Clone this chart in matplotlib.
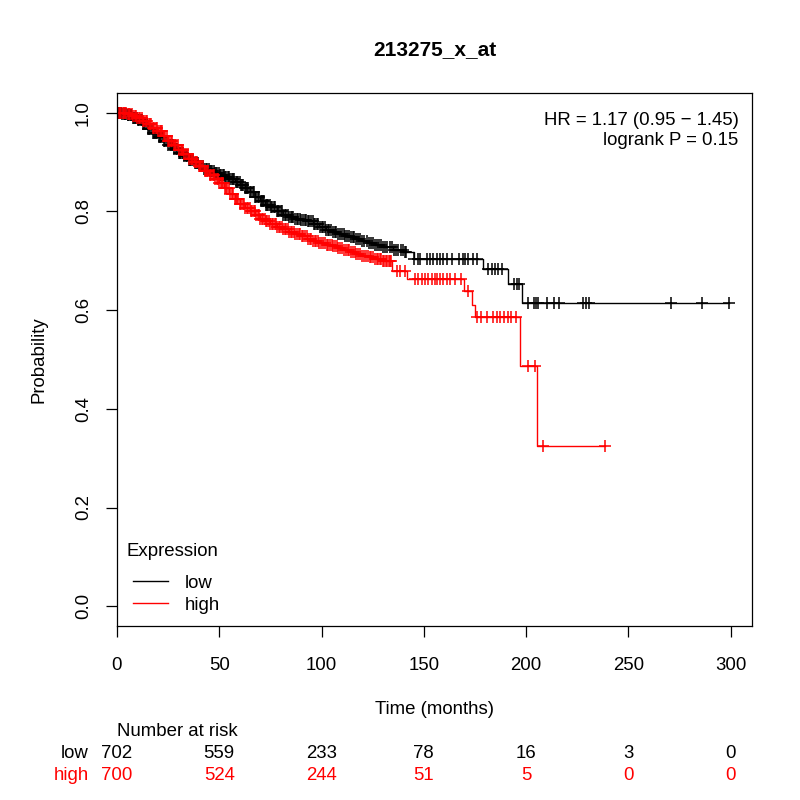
import numpy as np
import matplotlib
matplotlib.use("Agg")
import matplotlib.pyplot as plt
from matplotlib.lines import Line2D
from matplotlib.transforms import blended_transform_factory

plt.rcParams['font.family'] = ['Liberation Sans', 'DejaVu Sans']

title = "213275_x_at"
hr_text = "HR = 1.17 (0.95 \u2212 1.45)"
p_text = "logrank P = 0.15"

# Kaplan-Meier steps (time in months, survival after the step)
low_t = [0, 2.5, 5, 7.5, 10, 12.5, 15, 17.5, 20, 22.5, 25, 27.5, 30, 32.5, 35, 37.5,
         40, 42.5, 45, 47.5, 50, 52.5, 55, 57.5, 60, 62.5, 65, 67.5, 70, 72.5, 75, 78,
         81, 84, 87, 90, 93, 96, 99, 102, 105, 108, 111, 114, 117, 120, 123, 126, 130,
         135, 140, 145, 179, 191, 198]
low_s = [1.0, 0.998, 0.995, 0.99, 0.985, 0.977, 0.968, 0.959, 0.95, 0.942, 0.935,
         0.927, 0.919, 0.912, 0.905, 0.899, 0.893, 0.887, 0.882, 0.878, 0.874, 0.87,
         0.865, 0.86, 0.854, 0.847, 0.839, 0.83, 0.821, 0.814, 0.808, 0.80, 0.792,
         0.788, 0.785, 0.782, 0.78, 0.775, 0.768, 0.762, 0.758, 0.754, 0.751, 0.748,
         0.744, 0.74, 0.736, 0.732, 0.728, 0.722, 0.717, 0.703, 0.683, 0.653, 0.614]

high_t = [0, 2.5, 5, 7.5, 10, 12.5, 15, 17.5, 20, 22.5, 25, 27.5, 30, 32.5, 35, 37.5,
          40, 42.5, 45, 47.5, 50, 52.5, 55, 57.5, 60, 62.5, 65, 67.5, 70, 72.5, 75, 78,
          81, 84, 87, 90, 93, 96, 99, 102, 105, 108, 111, 114, 117, 120, 123, 126, 130,
          134.6, 142, 169.5, 173.5, 175, 197, 205.5]
high_s = [1.0, 0.999, 0.997, 0.994, 0.99, 0.984, 0.977, 0.97, 0.962, 0.952, 0.943,
          0.934, 0.925, 0.916, 0.907, 0.90, 0.892, 0.882, 0.873, 0.865, 0.858, 0.847,
          0.835, 0.825, 0.815, 0.807, 0.80, 0.792, 0.785, 0.78, 0.775, 0.769, 0.764,
          0.759, 0.755, 0.75, 0.745, 0.741, 0.737, 0.733, 0.729, 0.726, 0.722, 0.718,
          0.714, 0.71, 0.707, 0.704, 0.70, 0.679, 0.663, 0.638, 0.61, 0.586, 0.487,
          0.325]

# censoring times, early (dense) and late
low_cens_early = [
    0.5, 1.0, 1.6, 2.1, 2.5, 3.2, 3.7, 4.0, 4.6, 5.2, 5.5, 6.1, 6.7, 7.0, 7.6, 8.3,
    8.7, 9.1, 9.8, 10.4, 11.0, 11.5, 12.4, 12.9, 13.3, 13.8, 14.5, 15.0, 15.7, 16.2,
    16.9, 17.5, 18.1, 18.6, 19.0, 19.7, 20.3, 20.9, 21.7, 22.3, 23.0, 23.6, 24.4,
    25.1, 25.7, 26.2, 26.8, 27.4, 28.0, 28.7, 29.5, 30.1, 30.6, 31.0, 31.7, 32.2,
    32.9, 33.6, 34.3, 35.0, 35.5, 36.4, 37.0, 37.9, 38.4, 39.0, 39.8, 40.5, 41.1,
    42.0, 42.6, 43.3, 44.0, 44.8, 45.4, 46.0, 46.6, 47.2, 47.9, 48.5, 49.1, 49.7,
    50.3, 51.0, 51.6, 52.3, 52.9, 53.5, 54.1, 54.8, 55.4, 56.0, 56.8, 57.4, 58.0,
    58.6, 59.2, 59.9, 60.5, 61.2, 61.8, 62.5, 63.1, 63.7, 64.3, 65.0, 65.7, 66.4,
    67.0, 67.6, 68.2, 68.9, 69.5, 70.2, 70.8, 71.5, 72.1, 72.8, 73.4, 74.0, 74.7,
    75.3, 76.0, 76.7, 77.3, 78.0, 78.8, 79.4, 80.0, 80.6, 81.3, 82.0, 82.8, 83.5,
    84.2, 85.0, 85.6, 86.3, 87.1, 88.0, 88.7, 89.4, 90.2, 91.0, 91.8, 92.5, 93.2,
    94.0, 94.8, 95.6, 96.3, 97.0, 97.8, 98.5, 99.2, 100.0, 100.8, 101.6, 102.3,
    103.0, 103.9, 104.8, 105.6, 106.5, 107.2, 108.0, 109.0, 110.0, 110.8, 111.7,
    112.6, 113.5, 114.4, 115.3, 116.1, 117.0, 118.0, 119.0, 120.0, 121.0, 122.0,
    123.0, 124.1, 125.2, 126.0, 127.0, 128.0, 129.0, 130.0, 131.0, 132.2, 133.4,
    134.4, 135.5, 136.5, 137.6, 138.7, 139.8, 140.6, 141.5]
low_cens_late = [
    145, 147, 148.3, 151.7, 153, 154.7, 156.6, 158, 159.6, 161.5, 164, 167, 169,
    170.3, 171.8, 174, 176, 181.6, 183.5, 185, 186.5, 188.4, 194, 195.8, 196.8, 201,
    203.7, 205, 206, 210.5, 213.5, 216, 228, 229.5, 231, 270.7, 285.9, 299.1]

high_cens_early = [
    0.8, 1.3, 2.0, 2.7, 3.5, 4.1, 4.6, 5.3, 6.0, 6.6, 7.3, 8.0, 8.8, 9.4, 10.0, 10.7,
    11.3, 12.0, 12.7, 13.3, 14.0, 14.8, 15.6, 16.2, 16.8, 17.5, 18.2, 18.9, 19.5,
    20.2, 21.0, 21.6, 22.2, 22.9, 23.6, 24.3, 25.0, 25.6, 26.3, 27.0, 27.7, 28.3,
    29.0, 29.7, 30.4, 31.1, 31.8, 32.4, 33.0, 33.8, 34.5, 35.2, 36.0, 36.6, 37.2,
    37.9, 38.6, 39.3, 40.0, 40.7, 41.3, 42.0, 42.8, 43.4, 44.0, 44.7, 45.5, 46.1,
    46.8, 47.4, 48.0, 48.8, 49.5, 50.1, 50.8, 51.4, 52.0, 52.7, 53.4, 54.0, 54.7,
    55.3, 56.0, 56.8, 57.5, 58.1, 58.8, 59.4, 60.0, 60.7, 61.4, 62.1, 62.8, 63.4,
    64.0, 64.8, 65.5, 66.1, 66.8, 67.4, 68.0, 68.8, 69.5, 70.1, 70.8, 71.5, 72.2,
    72.9, 73.5, 74.2, 75.0, 75.7, 76.4, 77.1, 77.8, 78.4, 79.0, 79.8, 80.5, 81.3,
    82.0, 82.7, 83.4, 84.2, 85.0, 85.8, 86.5, 87.2, 88.0, 88.8, 89.6, 90.3, 91.0,
    91.9, 92.7, 93.5, 94.3, 95.1, 96.0, 96.7, 97.5, 98.2, 99.0, 99.9, 100.8, 101.6,
    102.5, 103.3, 104.0, 104.9, 105.7, 106.6, 107.5, 108.2, 109.0, 110.0, 111.0,
    111.9, 112.8, 113.6, 114.5, 115.4, 116.3, 117.1, 118.0, 119.0, 120.0, 120.9,
    121.8, 122.6, 123.5, 124.3, 125.2, 126.1, 127.0, 127.8, 128.5, 129.2, 130.0,
    130.8, 131.5, 132.2, 133.0, 133.6, 134.0]
high_cens_late = [
    137, 138.5, 141, 145.8, 147.3, 149.3, 150.8, 152.2, 154.2, 155.6, 156.6, 158,
    159.6, 161.5, 163, 165.4, 168, 171.8, 176, 178, 181, 184, 186, 187.5, 189, 191,
    192.5, 195, 201, 204.6, 208.5, 238.4]

xticks = [0, 50, 100, 150, 200, 250, 300]
risk_low = [702, 559, 233, 78, 16, 3, 0]
risk_high = [700, 524, 244, 51, 5, 0, 0]


def km_curve(ax, t, s, cens, color):
    t = np.asarray(t, float)
    s = np.asarray(s, float)
    cens = np.asarray(cens, float)
    tt = np.append(t, cens.max())
    ss = np.append(s, s[-1])
    ax.step(tt, ss, where='post', color=color, lw=1.0)
    idx = np.searchsorted(t, cens, side='right') - 1
    ax.plot(cens, s[idx], ls='none', marker='+', color=color, ms=9, mew=1.1)


fig = plt.figure(figsize=(8, 8), dpi=100)
ax = fig.add_axes([0.14625, 0.2175, 0.79375, 0.66625])

km_curve(ax, low_t, low_s, low_cens_early + low_cens_late, 'black')
km_curve(ax, high_t, high_s, high_cens_early + high_cens_late, 'red')

ax.set_xlim(0, 310.5)
ax.set_ylim(-0.04, 1.04)
ax.set_xticks(xticks)
ax.set_yticks([0, 0.2, 0.4, 0.6, 0.8, 1.0])
ax.set_yticklabels(['0.0', '0.2', '0.4', '0.6', '0.8', '1.0'], rotation=90, va='center')
ax.tick_params(direction='out', length=8, width=0.9, labelsize=13.4, pad=10)
ax.tick_params(axis='x', pad=14)
for sp in ax.spines.values():
    sp.set_linewidth(0.9)

ax.set_title(title, fontsize=15, fontweight='bold', pad=27)
ax.set_xlabel("Time (months)", fontsize=13.4, labelpad=20)
ax.set_ylabel("Probability", fontsize=13.4, labelpad=20)

ax.text(0.979, 0.949, hr_text, transform=ax.transAxes, ha='right', va='center', fontsize=13.4)
ax.text(0.979, 0.910, p_text, transform=ax.transAxes, ha='right', va='center', fontsize=13.4)

# legend
ax.text(0.0157, 0.139, "Expression", transform=ax.transAxes, ha='left', va='center',
        fontsize=13.4)
handles = [Line2D([], [], color='black', lw=1.0), Line2D([], [], color='red', lw=1.0)]
ax.legend(handles, ['low', 'high'], loc='lower left', bbox_to_anchor=(0.0135, 0.009),
          frameon=False, fontsize=13.4, handlelength=1.9, handletextpad=0.9,
          labelspacing=0.28, borderaxespad=0.0)

# number at risk table
tr = blended_transform_factory(ax.transData, fig.transFigure)
fig.text(0.146, 1 - 731 / 800, "Number at risk", ha='left', va='center', fontsize=13.4)
fig.text(0.111, 1 - 753 / 800, "low", ha='right', va='center', fontsize=13.4, color='black')
fig.text(0.111, 1 - 775 / 800, "high", ha='right', va='center', fontsize=13.4, color='red')
for x, nl, nh in zip(xticks, risk_low, risk_high):
    ax.text(x, 1 - 753 / 800, str(nl), transform=tr, ha='center', va='center',
            fontsize=13.4, color='black', clip_on=False)
    ax.text(x, 1 - 775 / 800, str(nh), transform=tr, ha='center', va='center',
            fontsize=13.4, color='red', clip_on=False)

fig.savefig("out.png", dpi=100)
